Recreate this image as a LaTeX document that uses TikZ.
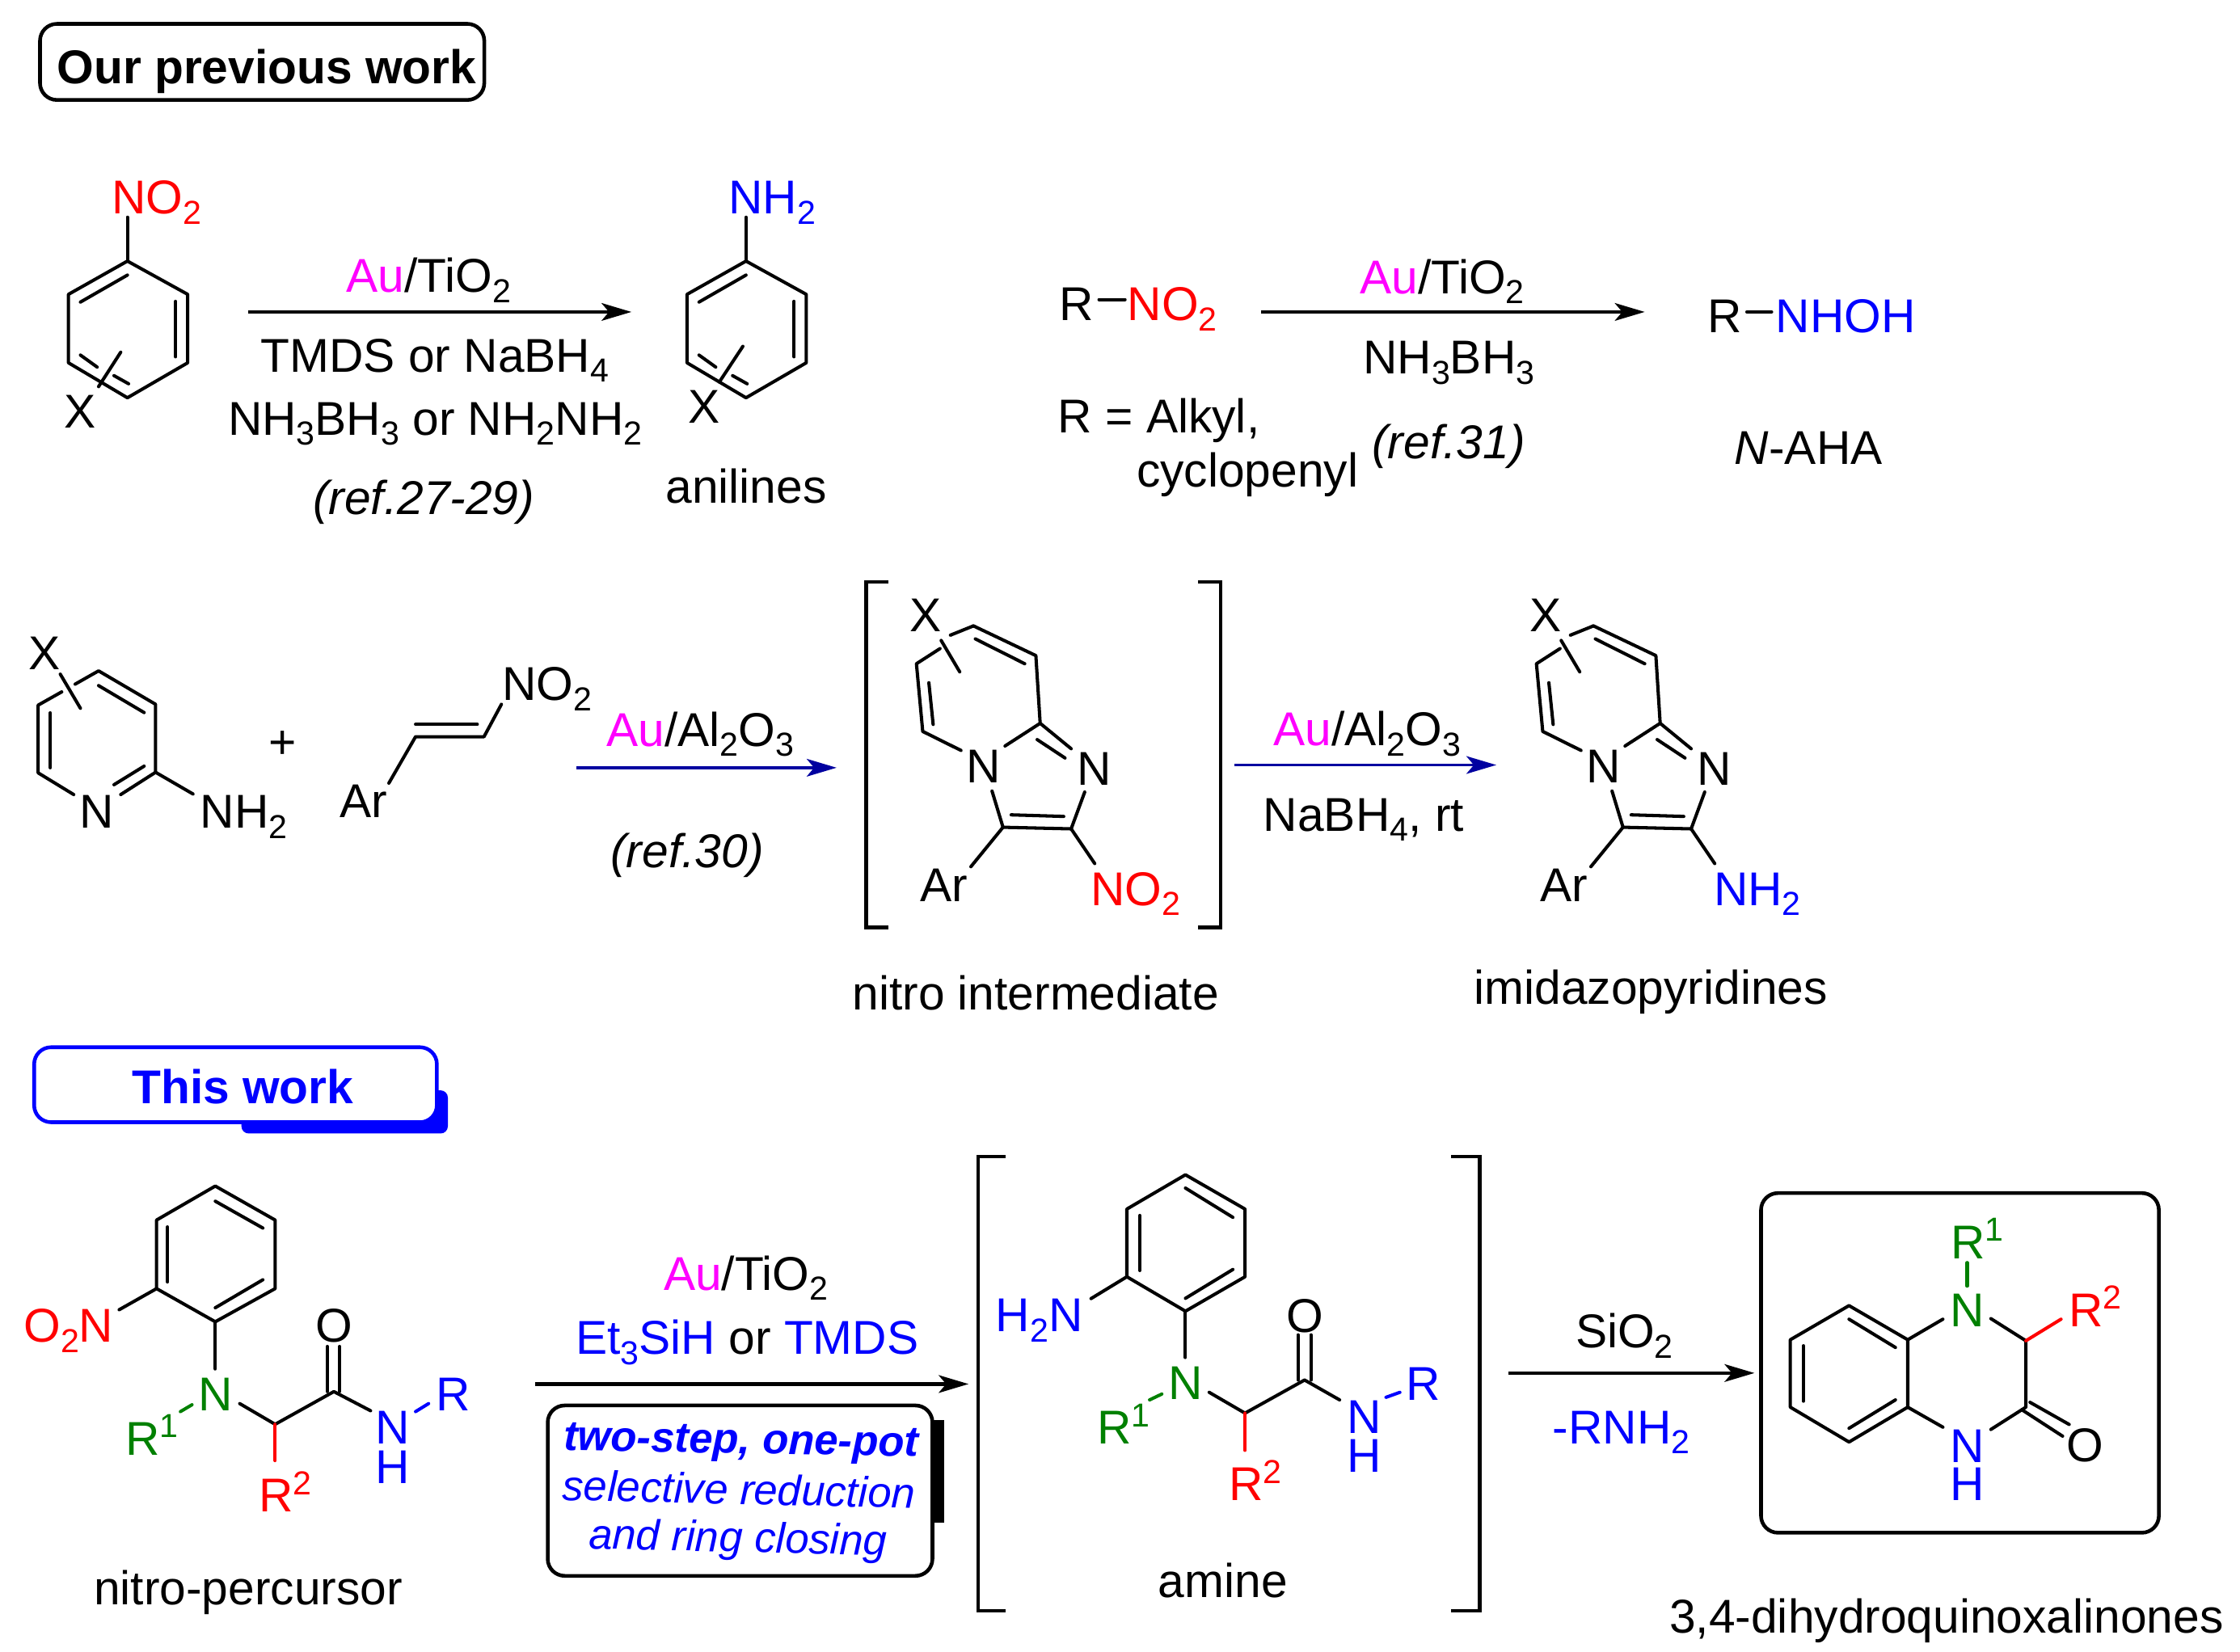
\documentclass[tikz,border=0pt]{standalone}
\usepackage{fontspec}
\setmainfont{Liberation Sans}
\usetikzlibrary{arrows.meta}
\definecolor{mag}{RGB}{255,0,255}
\definecolor{grn}{RGB}{0,128,0}
\definecolor{nvy}{RGB}{0,0,160}
\newcommand{\sbs}[1]{\raisebox{-3.6pt}{\fontsize{11.7}{12}\selectfont #1}}
\newcommand{\sps}[1]{\raisebox{6pt}{\fontsize{11.7}{12}\selectfont #1}}
\newcommand{\benzring}[1]{%
  \coordinate (#1a) at (89.2,182.8); \coordinate (#1b) at (131.4,206.1);
  \coordinate (#1c) at (131.4,254); \coordinate (#1d) at (89.2,278.5);
  \coordinate (#1e) at (47.9,254); \coordinate (#1f) at (47.9,206.1);
  \coordinate (#1g) at (89.2,152.1);
  \draw[bondln] (#1a)--(#1b)--(#1c)--(#1d)--(#1e)--(#1f)--cycle;
  \draw[bondln] (#1a)--(#1g);
  \draw[bondln] (56.3,211.5)--(89.2,192.6);
  \draw[bondln] (122.9,211)--(122.9,249.8);
  \draw[bondln] (56.3,248.6)--(68,257);
  \draw[bondln] (79.8,263)--(90,268.7);
}
\newcommand{\imidazo}[1]{%
  \coordinate (#1a) at (1115.4,438.2); \coordinate (#1b) at (1159.1,459);
  \coordinate (#1c) at (1162.1,506.4); \coordinate (#1d) at (1183.8,580.3);
  \coordinate (#1e) at (1136.1,579.2); \coordinate (#1f) at (1079.9,512.1);
  \coordinate (#1g) at (1075.5,464.7);
  \node[ctxt] (#1n4) at (1122.3,546.2) {N};
  \node[ctxt] (#1n1) at (1199.8,548) {N};
  \node[ctxt] (#1x) at (1082,440.9) {X};
  \node[ltxt] (#1ar) at (1079.8,629.6) {Ar};
  \draw[bondln] (#1a)--(#1b)--(#1c)--(1137.5,522.3);
  \draw[bondln] (#1c)--(1183.8,524.2);
  \draw[bondln] (1160,517.8)--(1179.5,530.7);
  \draw[bondln] (1193.3,554.5)--(#1d)--(#1e)--(1128.4,553.8);
  \draw[bondln] (1141.8,570.5)--(1178.6,571.6);
  \draw[bondln] (1106.7,525.4)--(#1f)--(#1g)--(1092,454.1);
  \draw[bondln] (1099.3,444.7)--(#1a);
  \draw[bondln] (1084.2,478)--(1087.2,507.2);
  \draw[bondln] (1116.7,447.3)--(1151.3,464.7);
  \draw[bondln] (1092.8,448.4)--(1105.8,470.4);
  \draw[bondln] (#1d)--(1200.3,604.6);
  \draw[bondln] (#1e)--(1113.6,606.8);
}
\tikzset{
  every node/.style={font=\fontsize{16.7}{20}\selectfont,inner sep=0pt,outer sep=0pt},
  ltxt/.style={anchor=base west,xshift=-0.7pt,yshift=-0.8pt},
  ctxt/.style={anchor=base,yshift=-0.8pt},
  bondln/.style={draw=black,line width=1.15pt,line cap=round,line join=round},
  rxn/.style={draw=black,line width=1.25pt,-{Stealth[length=10.5pt,width=6.2pt,inset=2.6pt]}},
  rxnb/.style={draw=nvy,line width=1.1pt,-{Stealth[length=10.5pt,width=6.2pt,inset=2.6pt]}},
  brk/.style={draw=black,line width=1.2pt},
  lbox/.style={line width=1.3pt,rounded corners=0.21cm,fill=white},
}
\begin{document}
\begin{tikzpicture}[x=0.01767cm,y=-0.01767cm]
\path[fill=white,use as bounding box] (0,0) rectangle (1568,1156.6);

% header
\draw[lbox,draw=black] (28,16.7) rectangle (339,70);
\node[ltxt,font=\fontsize{16.7}{20}\selectfont\bfseries] (hdr1) at (41.3,57) {Our previous work};

% nitroarene -> aniline
\benzring{p}
\draw[bondln] (84.5,246.6)--(69,270.7);
\node[ltxt,text=red] (no2a) at (79.8,148) {NO\sbs{2}};
\node[ctxt] (xa) at (56.3,298.2) {X};
\begin{scope}[shift={(433,0)}]
\benzring{q}
\end{scope}
\draw[bondln] (520,242.5)--(503.5,267.5);
\node[ltxt,text=blue] (nh2a) at (511.5,148) {NH\sbs{2}};
\node[ctxt] (xb) at (492.7,294.5) {X};
\coordinate (r1s) at (173.6,218.4); \coordinate (r1e) at (442,218.4);
\draw[rxn] (r1s)--(r1e);
\node[ltxt] (c1) at (244,203.2) {\textcolor{mag}{Au}/TiO\sbs{2}};
\node[ltxt] (c2) at (184,258.9) {TMDS or NaBH\sbs{4}};
\node[ltxt] (c3) at (161,303) {NH\sbs{3}BH\sbs{3} or NH\sbs{2}NH\sbs{2}};
\node[ctxt,font=\fontsize{16.7}{20}\selectfont\itshape] (c4) at (296.6,358.8) {(ref.27-29)};
\node[ctxt] (c5) at (522.3,350.4) {anilines};

% R-NO2 -> R-NHOH
\node[ltxt] (ra) at (742.9,223) {R};
\node[ltxt,text=red] (no2b) at (790.6,223) {NO\sbs{2}};
\coordinate (d1s) at (769.3,209.7); \coordinate (d1e) at (787.5,209.7);
\draw[bondln] (d1s)--(d1e);
\coordinate (r2s) at (882.8,218.4); \coordinate (r2e) at (1151.3,218.4);
\draw[rxn] (r2s)--(r2e);
\node[ltxt] (c6) at (953.4,204) {\textcolor{mag}{Au}/TiO\sbs{2}};
\node[ltxt] (c7) at (955.6,260.1) {NH\sbs{3}BH\sbs{3}};
\node[ltxt] (c8) at (742,301.4) {R = Alkyl,};
\node[ltxt] (c9) at (797,339.3) {cyclopenyl};
\node[ctxt,font=\fontsize{16.7}{20}\selectfont\itshape] (c10) at (1014,319.6) {(ref.31)};
\node[ltxt] (rb) at (1196.8,231.3) {R};
\coordinate (d2s) at (1222.8,218.4); \coordinate (d2e) at (1240.1,218.4);
\draw[bondln] (d2s)--(d2e);
\node[ltxt,text=blue] (nhoh) at (1244.4,231.3) {NHOH};
\node[ctxt] (naha) at (1266,323.4) {\textit{N}-AHA};

% aminopyridine
\coordinate (py1) at (69,469.7); \coordinate (py2) at (108.9,493.1);
\coordinate (py3) at (108.9,540.7); \coordinate (py4) at (26.7,541.1);
\coordinate (py5) at (26.7,493.7);
\node[ctxt] (pyn) at (68,578.2) {N};
\node[ltxt] (pynh2) at (141.7,578.2) {NH\sbs{2}};
\node[ctxt] (pyx) at (31.4,467) {X};
\draw[bondln] (52.6,479)--(py1)--(py2)--(py3)--(84.5,556.3);
\draw[bondln] (51.6,556.3)--(py4)--(py5)--(43.2,484.4);
\draw[bondln] (100.9,536.4)--(79.8,549.4);
\draw[bondln] (69,480)--(100.9,498.9);
\draw[bondln] (35.2,499.1)--(35.2,537.5);
\draw[bondln] (42.2,472)--(56.3,495.9);
\draw[bondln] (py3)--(135.1,555.9);
\node[font=\fontsize{16.7}{20}\selectfont] (plus) at (198,521.7) {+};

% nitrostyrene
\node[ltxt] (star) at (239.3,570.6) {Ar};
\node[ltxt] (stno2) at (352.9,488.8) {NO\sbs{2}};
\coordinate (st1) at (290.9,515.8); \coordinate (st2) at (338.8,515.8);
\draw[bondln] (272.2,548.3)--(st1)--(st2)--(351,493.1);
\draw[bondln] (290.9,507.1)--(334.1,507.1);

\coordinate (r3s) at (403.6,537.5); \coordinate (r3e) at (585.6,537.5);
\draw[rxnb] (r3s)--(r3e);
\node[ltxt] (c11) at (426,520.8) {\textcolor{mag}{Au}/Al\sbs{2}O\sbs{3}};
\node[ctxt,font=\fontsize{16.7}{20}\selectfont\itshape] (c12) at (481,606.1) {(ref.30)};

% brackets row 2
\draw[brk] (621.8,407.5)--(606.3,407.5)--(606.3,649.3)--(621.8,649.3);
\draw[brk] (838.6,407.5)--(854.6,407.5)--(854.6,649.3)--(838.6,649.3);

\begin{scope}[shift={(-434,0)}]
\imidazo{im}
\end{scope}
\node[ltxt,text=red] (imno2) at (765,632.2) {NO\sbs{2}};
\node[ctxt] (nitint) at (725,705.3) {nitro intermediate};

\coordinate (r4s) at (864.2,535.6); \coordinate (r4e) at (1047.4,535.6);
\draw[rxnb] (r4s)--(r4e);
\node[ltxt] (c13) at (892.8,520.4) {\textcolor{mag}{Au}/Al\sbs{2}O\sbs{3}};
\node[ltxt] (c14) at (885.8,580.3) {NaBH\sbs{4}, rt};

\imidazo{ip}
\node[ltxt,text=blue] (ipnh2) at (1201,632.2) {NH\sbs{2}};
\node[ctxt] (imdz) at (1155.6,701.4) {imidazopyridines};

% This work
\fill[blue,rounded corners=0.09cm] (169,763.4) rectangle (313.5,793.6);
\draw[lbox,draw=blue] (23.9,733.2) rectangle (305.8,785.7);
\node[ltxt,text=blue,font=\fontsize{16.7}{20}\selectfont\bfseries] (thiswork) at (93.8,771.2) {This work};

% nitro-percursor
\coordinate (a1) at (150.7,830.4); \coordinate (a2) at (192.6,854.2);
\coordinate (a3) at (192.6,902.2); \coordinate (a4) at (150.7,925.4);
\coordinate (a5) at (109.6,902.2); \coordinate (a6) at (109.6,854.2);
\coordinate (ach) at (192.6,997.2); \coordinate (aco) at (233.7,974.3);
\draw[bondln] (a1)--(a2)--(a3)--(a4)--(a5)--(a6)--cycle;
\draw[bondln] (150.7,841)--(184,859.8);
\draw[bondln] (184,896)--(150.7,915.6);
\draw[bondln] (117.3,859)--(117.3,897.5);
\draw[bondln] (a5)--(83.4,917);
\draw[bondln] (a4)--(150.7,958.4);
\node[ltxt,text=red] (ao2n) at (18,938) {O\sbs{2}N};
\node[ctxt,text=grn] (an) at (151,986) {N};
\node[ltxt,text=grn] (ar1) at (89.3,1017) {R\sps{1}};
\draw[bondln,draw=grn] (134.4,983.5)--(126.3,988.3);
\draw[bondln] (167.8,982.7)--(ach)--(aco)--(259.4,987.7);
\draw[bondln,draw=red] (ach)--(192.6,1022.6);
\node[ltxt,text=red] (ar2) at (182.7,1056.7) {R\sps{2}};
\draw[bondln] (229.1,974.3)--(229.1,942.7);
\draw[bondln] (237.7,974.3)--(237.7,942.7);
\node[ctxt] (ao) at (233.7,938) {O};
\node[ctxt,text=blue] (anb) at (275,1009.2) {N};
\node[ctxt,text=blue] (ah) at (275,1037) {H};
\node[ltxt,text=blue] (ar) at (306.7,986.3) {R};
\draw[bondln,draw=blue] (290.9,988.3)--(300,982.7);
\node[ctxt] (np) at (173.7,1122) {nitro-percursor};

% reaction 5
\node[ltxt] (c15) at (466,901.7) {\textcolor{mag}{Au}/TiO\sbs{2}};
\node[ltxt] (c16) at (404.5,946.5) {\textcolor{blue}{Et\sbs{3}SiH} or \textcolor{blue}{TMDS}};
\coordinate (r5s) at (374.4,969); \coordinate (r5e) at (678,969);
\draw[rxn] (r5s)--(r5e);
\fill[black] (640,994) rectangle (660.8,1066);
\draw[lbox,draw=black] (383.4,984) rectangle (652.7,1103.3);
\node[ctxt,text=blue,rotate=-1,font=\fontsize{15}{18}\selectfont\bfseries\itshape] (t1) at (518.7,1016) {two-step, one-pot};
\node[ctxt,text=blue,rotate=-1.3,font=\fontsize{15}{18}\selectfont\itshape] (t2) at (517,1051.5) {selective reduction};
\node[ctxt,text=blue,rotate=-1.3,font=\fontsize{15}{18}\selectfont\itshape] (t3) at (516.5,1085) {and ring closing};

% brackets row 3
\draw[brk] (703.7,809.7)--(684.9,809.7)--(684.9,1127.7)--(703.7,1127.7);
\draw[brk] (1015.9,809.7)--(1035.8,809.7)--(1035.8,1127.7)--(1015.9,1127.7);

% amine
\coordinate (b1) at (829.8,822.5); \coordinate (b2) at (871.5,846.5);
\coordinate (b3) at (871.5,893.9); \coordinate (b4) at (829.8,918);
\coordinate (b5) at (788.8,893.9); \coordinate (b6) at (788.8,846.5);
\coordinate (bch) at (871.5,989.4); \coordinate (bco) at (913.2,966.2);
\draw[bondln] (b1)--(b2)--(b3)--(b4)--(b5)--(b6)--cycle;
\draw[bondln] (829.8,831.8)--(863,852.3);
\draw[bondln] (863,888.8)--(829.8,909);
\draw[bondln] (797.9,851)--(797.9,889.5);
\draw[bondln] (b5)--(763.7,909.2);
\draw[bondln] (b4)--(829.8,950.4);
\node[ltxt,text=blue] (bh2n) at (698.5,930.6) {H\sbs{2}N};
\node[ctxt,text=grn] (bn) at (829.8,978.3) {N};
\node[ltxt,text=grn] (br1) at (769.4,1009.2) {R\sps{1}};
\draw[bondln,draw=grn] (813.3,976)--(804.7,980.1);
\draw[bondln] (846.4,974.8)--(bch)--(bco)--(937.7,980.1);
\draw[bondln,draw=red] (bch)--(871.5,1015.4);
\node[ltxt,text=red] (br2) at (861.8,1049.2) {R\sps{2}};
\draw[bondln] (908.6,966.2)--(908.6,934.6);
\draw[bondln] (917.7,966.2)--(917.7,934.6);
\node[ctxt] (bo) at (913.2,931) {O};
\node[ctxt,text=blue] (bnb) at (954.8,1002) {N};
\node[ctxt,text=blue] (bh) at (954.8,1029) {H};
\node[ltxt,text=blue] (br) at (985.6,978.7) {R};
\draw[bondln,draw=blue] (970.2,978.3)--(979.9,974.8);
\node[ctxt] (amine) at (856,1117) {amine};

% reaction 6
\coordinate (r6s) at (1055.8,961.3); \coordinate (r6e) at (1228.1,961.3);
\draw[rxn] (r6s)--(r6e);
\node[ltxt] (c17) at (1104.3,942.2) {SiO\sbs{2}};
\node[ltxt,text=blue] (c18) at (1088.3,1009.2) {-RNH\sbs{2}};

% product
\draw[lbox,draw=black] (1232.7,835.3) rectangle (1511.2,1073.1);
\coordinate (q1) at (1294.3,914.1); \coordinate (q2) at (1253.2,938);
\coordinate (q3) at (1253.2,985.2); \coordinate (q4) at (1294.3,1009.6);
\coordinate (q5) at (1335.4,985.2); \coordinate (q6) at (1335.4,938);
\coordinate (q7) at (1418.1,938.7); \coordinate (q8) at (1418.1,985.2);
\draw[bondln] (q1)--(q2)--(q3)--(q4)--(q5)--(q6)--cycle;
\draw[bondln] (1294.3,923.6)--(1326.8,943.4);
\draw[bondln] (1326.8,980.1)--(1294.3,1000);
\draw[bondln] (1262.4,942.2)--(1262.4,981);
\draw[bondln] (q6)--(1360,923.6);
\node[ctxt,text=grn] (qn) at (1377,927) {N};
\draw[bondln,draw=grn] (1377,900.4)--(1377,884);
\node[ltxt,text=grn] (qr1) at (1366.8,879.5) {R\sps{1}};
\draw[bondln] (1393.6,923.2)--(q7)--(q8)--(1393.6,1000.8);
\draw[bondln,draw=red] (q7)--(1442.7,923.6);
\node[ltxt,text=red] (qr2) at (1449.5,927) {R\sps{2}};
\draw[bondln] (1415.3,987)--(1443.8,1005.5);
\draw[bondln] (1421,981.8)--(1448.4,997.3);
\node[ctxt] (qo) at (1459.8,1021.7) {O};
\draw[bondln] (q5)--(1360,999.2);
\node[ctxt,text=blue] (qnb) at (1377,1022.4) {N};
\node[ctxt,text=blue] (qh) at (1377,1048.7) {H};
\node[ltxt] (qname) at (1170,1142) {3,4-dihydroquinoxalinones};
\end{tikzpicture}
\end{document}
